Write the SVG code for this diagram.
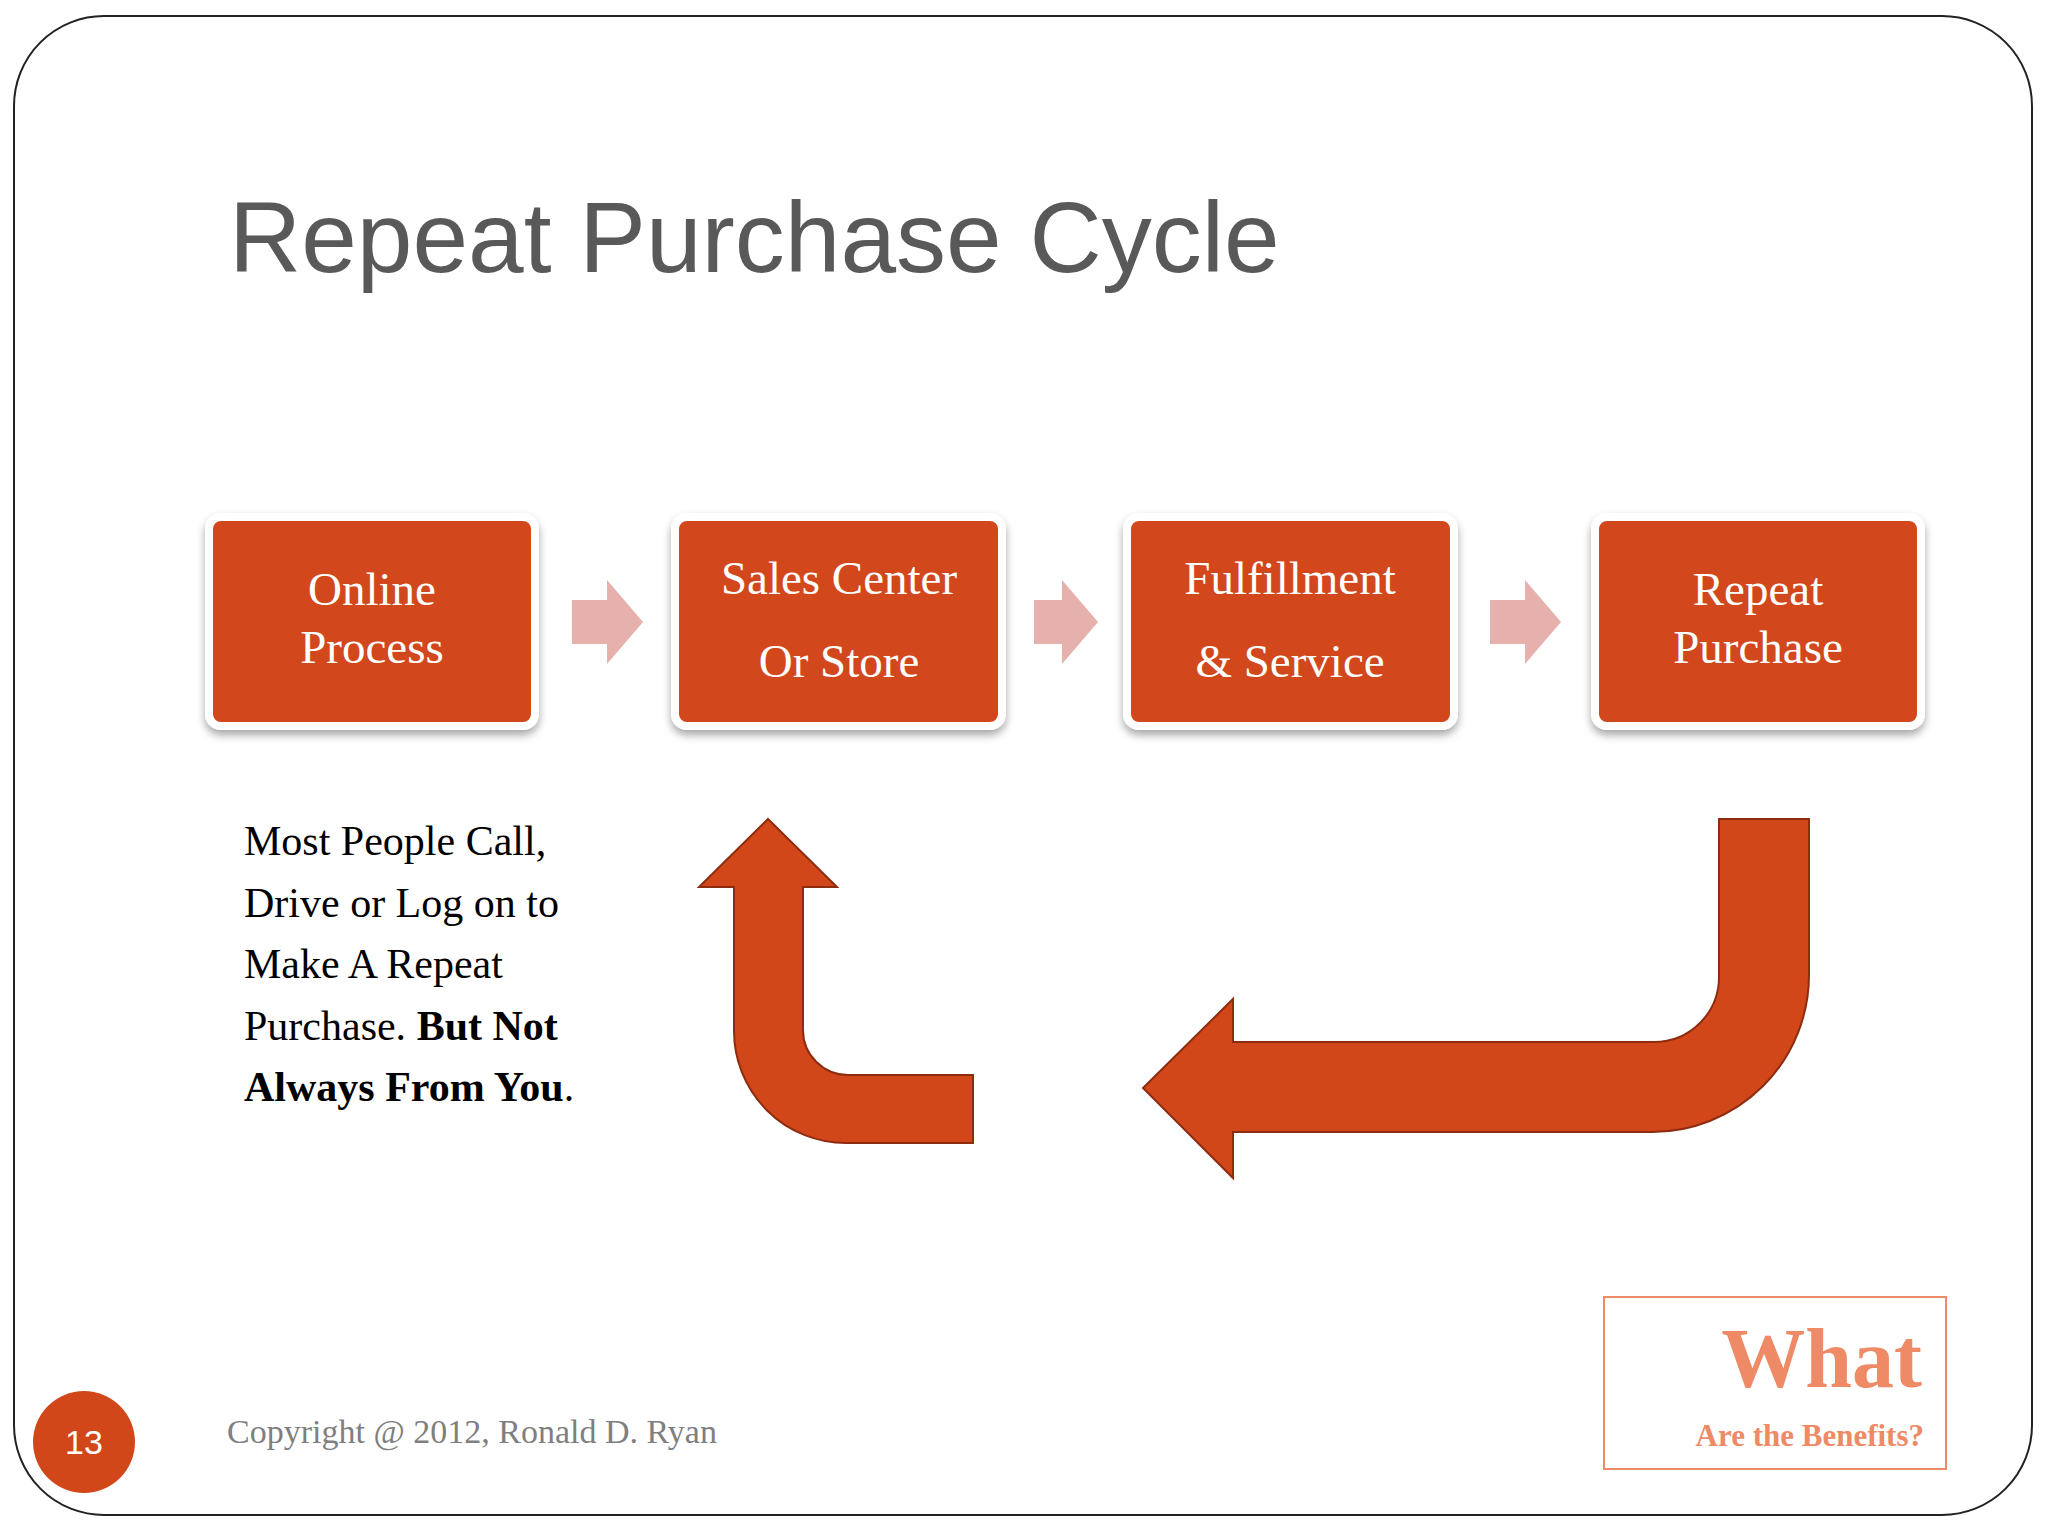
<svg xmlns="http://www.w3.org/2000/svg" width="2048" height="1536" viewBox="0 0 2048 1536">
<defs>
<style>
.box{fill:#D2471A;stroke:#fff;stroke-width:8}
.bt{font-family:"Liberation Serif",serif;font-size:47px;fill:#fff;text-anchor:middle}
.body{font-family:"Liberation Serif",serif;font-size:42px;fill:#000}
.sm{fill:#E6B1AD}
.big{fill:#D2471A;stroke:#8E2C10;stroke-width:2}
</style>
<filter id="sh" x="-10%" y="-10%" width="120%" height="130%"><feDropShadow dx="0" dy="5" stdDeviation="4" flood-color="#000" flood-opacity="0.35"/></filter>
</defs>
<rect width="2048" height="1536" fill="#fff"/>
<rect x="14" y="16" width="2018" height="1499" rx="90" fill="#fff" stroke="#222" stroke-width="2"/>
<text x="229" y="272" font-family="Liberation Sans,Arial,sans-serif" font-size="100" fill="#595959">Repeat Purchase Cycle</text>
<g id="n1"><rect class="box" x="209" y="517" width="326" height="209" rx="12" filter="url(#sh)"/><text class="bt" x="372" y="605">Online</text><text class="bt" x="372" y="663">Process</text></g>
<g id="n2"><rect class="box" x="675" y="517" width="327" height="209" rx="12" filter="url(#sh)"/><text class="bt" x="839" y="594">Sales Center</text><text class="bt" x="839" y="677">Or Store</text></g>
<g id="n3"><rect class="box" x="1127" y="517" width="327" height="209" rx="12" filter="url(#sh)"/><text class="bt" x="1290" y="594">Fulfillment</text><text class="bt" x="1290" y="677">&amp; Service</text></g>
<g id="n4"><rect class="box" x="1595" y="517" width="326" height="209" rx="12" filter="url(#sh)"/><text class="bt" x="1758" y="605">Repeat</text><text class="bt" x="1758" y="663">Purchase</text></g>
<g id="connectors">
<path class="sm" d="M572 600H607V580L643 622L607 664V644H572Z"/>
<path class="sm" d="M1034 600H1062V580L1098 622L1062 664V644H1034Z"/>
<path class="sm" d="M1490 600H1525V580L1561 622L1525 664V644H1490Z"/>
<path class="big" d="M768 819L837 887H803V1030A45 45 0 0 0 848 1075H973V1143H846A112 112 0 0 1 734 1031V887H699Z"/>
<path class="big" d="M1719 819H1809V975A157 157 0 0 1 1652 1132H1233V1178L1143 1088L1233 999V1042H1654A65 65 0 0 0 1719 977Z"/>
</g>
<g class="body">
<text x="244" y="855">Most People Call,</text>
<text x="244" y="917">Drive or Log on to</text>
<text x="244" y="978">Make A Repeat</text>
<text x="244" y="1040">Purchase.  <tspan font-weight="bold">But Not</tspan></text>
<text x="244" y="1101"><tspan font-weight="bold">Always From You</tspan>.</text>
</g>
<circle cx="84" cy="1442" r="51" fill="#D2471A"/>
<text x="84" y="1454" font-family="Liberation Sans,Arial,sans-serif" font-size="34" fill="#fff" text-anchor="middle">13</text>
<text x="227" y="1443" font-family="Liberation Serif,serif" font-size="34" fill="#7F7F7F">Copyright @ 2012, Ronald D. Ryan</text>
<rect x="1604" y="1297" width="342" height="172" fill="none" stroke="#EE8A66" stroke-width="2"/>
<text x="1922" y="1387" font-family="Liberation Serif,serif" font-weight="bold" font-size="84" fill="#EE8A66" text-anchor="end">What</text>
<text x="1924" y="1446" font-family="Liberation Serif,serif" font-weight="bold" font-size="31" fill="#EE8A66" text-anchor="end">Are the Benefits?</text>
</svg>
